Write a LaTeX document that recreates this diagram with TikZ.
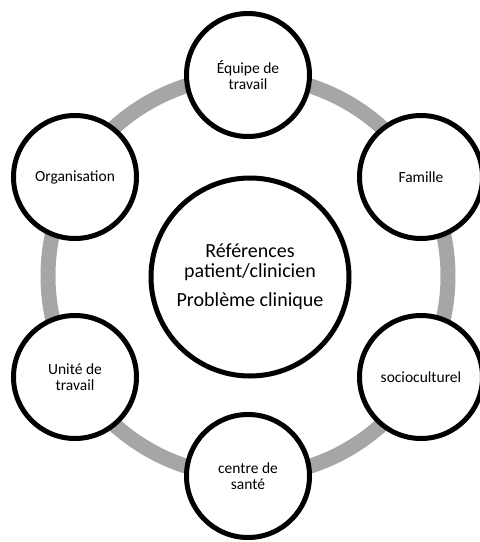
\documentclass[tikz,border=0pt]{standalone}
\usepackage{fontspec}
\setmainfont{Carlito}
\usetikzlibrary{positioning}
\tikzset{
  part/.style={circle, draw=black, line width=5pt, fill=white, minimum size=123pt, inner sep=0pt, align=center, font=\fontsize{15.5}{16}\selectfont},
  hub/.style={circle, draw=black, line width=5pt, fill=white, minimum size=198pt, inner sep=0pt, align=center, font=\fontsize{20}{20}\selectfont},
  ring/.style={line width=15pt, color=black!35}
}
\begin{document}
\begin{tikzpicture}[x=1pt,y=-1pt]
\useasboundingbox (0,0) rectangle (480,542);
\coordinate (mid) at (248,276);
\draw[style=ring] (mid) circle (200pt);
\node[style=hub] (hub) at (250,277) {Références\\patient/clinicien\\[9pt]Problème clinique};
\node[style=part] (equipe) at (248,75) {Équipe de\\travail};
\node[style=part] (famille) at (421,177) {Famille};
\node[style=part] (socio) at (421,377) {socioculturel};
\node[style=part] (centre) at (248,476) {centre de\\santé};
\node[style=part] (unite) at (75,377) {Unité de\\travail};
\node[style=part] (orga) at (75,177) {Organisation};
\end{tikzpicture}
\end{document}
